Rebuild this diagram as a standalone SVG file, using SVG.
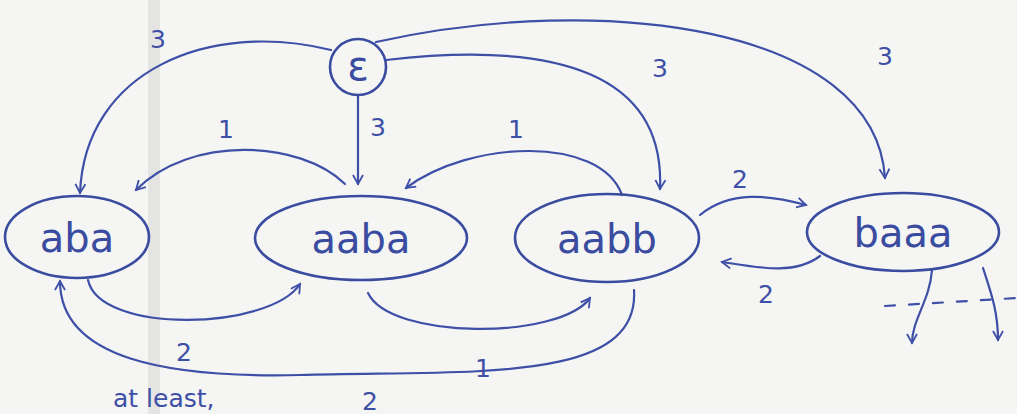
<svg xmlns="http://www.w3.org/2000/svg" width="1017" height="414" viewBox="0 0 1017 414">
<style>
.ink{fill:none;stroke:#3d4fa6;stroke-width:2.2;stroke-linecap:round}
.node{fill:none;stroke:#3a4ca0;stroke-width:2.6}
.lbl{font-family:"DejaVu Sans",sans-serif;font-size:25px;fill:#3d4fa6}
.name{font-family:"DejaVu Sans",sans-serif;font-size:40px;fill:#3a4ca0;text-anchor:middle}
</style>
<defs>
<marker id="ah" viewBox="0 0 12 12" refX="10" refY="6" markerWidth="12" markerHeight="12" markerUnits="userSpaceOnUse" orient="auto">
<path d="M1,1 L10,6 L1,11" fill="none" stroke="#3d4fa6" stroke-width="1.8"/>
</marker>
</defs>
<rect width="1017" height="414" fill="#f5f5f3"/>
<rect x="148" y="0" width="12" height="414" fill="#e4e4e2"/>
<g id="connectors">
<path class="ink" marker-end="url(#ah)" d="M331,50 C210,20 85,70 80,193"/>
<path class="ink" marker-end="url(#ah)" d="M358,95 L358,184"/>
<path class="ink" marker-end="url(#ah)" d="M386,60 C560,40 665,75 660,189"/>
<path class="ink" marker-end="url(#ah)" d="M376,42 C600,-8 875,25 885,178"/>
<path class="ink" marker-end="url(#ah)" d="M345,184 C300,140 190,135 136,190"/>
<path class="ink" marker-end="url(#ah)" d="M622,195 C600,135 470,140 406,188"/>
<path class="ink" marker-end="url(#ah)" d="M700,215 C730,190 770,195 806,205"/>
<path class="ink" marker-end="url(#ah)" d="M820,256 C795,275 760,268 722,262"/>
<path class="ink" marker-end="url(#ah)" d="M88,280 C100,335 270,330 300,284"/>
<path class="ink" marker-end="url(#ah)" d="M368,293 C390,340 560,340 590,298"/>
<path class="ink" marker-end="url(#ah)" d="M634,290 C640,385 470,370 300,375 C170,378 60,360 60,281"/>
<path class="ink" marker-end="url(#ah)" d="M932,270 C930,300 912,320 912,343"/>
<path class="ink" marker-end="url(#ah)" d="M983,268 C990,290 998,310 998,340"/>
<path class="ink" stroke-width="1.4" stroke-dasharray="10,14" d="M885,306 L1017,298"/>
<text class="lbl" x="150" y="48">3</text>
<text class="lbl" x="370" y="136">3</text>
<text class="lbl" x="652" y="77">3</text>
<text class="lbl" x="877" y="65">3</text>
<text class="lbl" x="218" y="138">1</text>
<text class="lbl" x="508" y="138">1</text>
<text class="lbl" x="732" y="188">2</text>
<text class="lbl" x="758" y="303">2</text>
<text class="lbl" x="176" y="361">2</text>
<text class="lbl" x="475" y="377">1</text>
<text class="lbl" x="362" y="410">2</text>
<text class="lbl" x="113" y="407" font-size="24">at least,</text>
</g>
<g id="eps"><circle class="node" cx="358" cy="67" r="28"/><text class="name" x="358" y="80" font-size="32">ε</text></g>
<g id="aba"><ellipse class="node" cx="77" cy="237" rx="72" ry="41"/><text class="name" x="77" y="252">aba</text></g>
<g id="aaba"><ellipse class="node" cx="361" cy="238" rx="106" ry="42"/><text class="name" x="361" y="253">aaba</text></g>
<g id="aabb"><ellipse class="node" cx="607" cy="238" rx="92" ry="44"/><text class="name" x="607" y="253">aabb</text></g>
<g id="baaa"><ellipse class="node" cx="903" cy="232" rx="96" ry="39"/><text class="name" x="903" y="247">baaa</text></g>
</svg>
